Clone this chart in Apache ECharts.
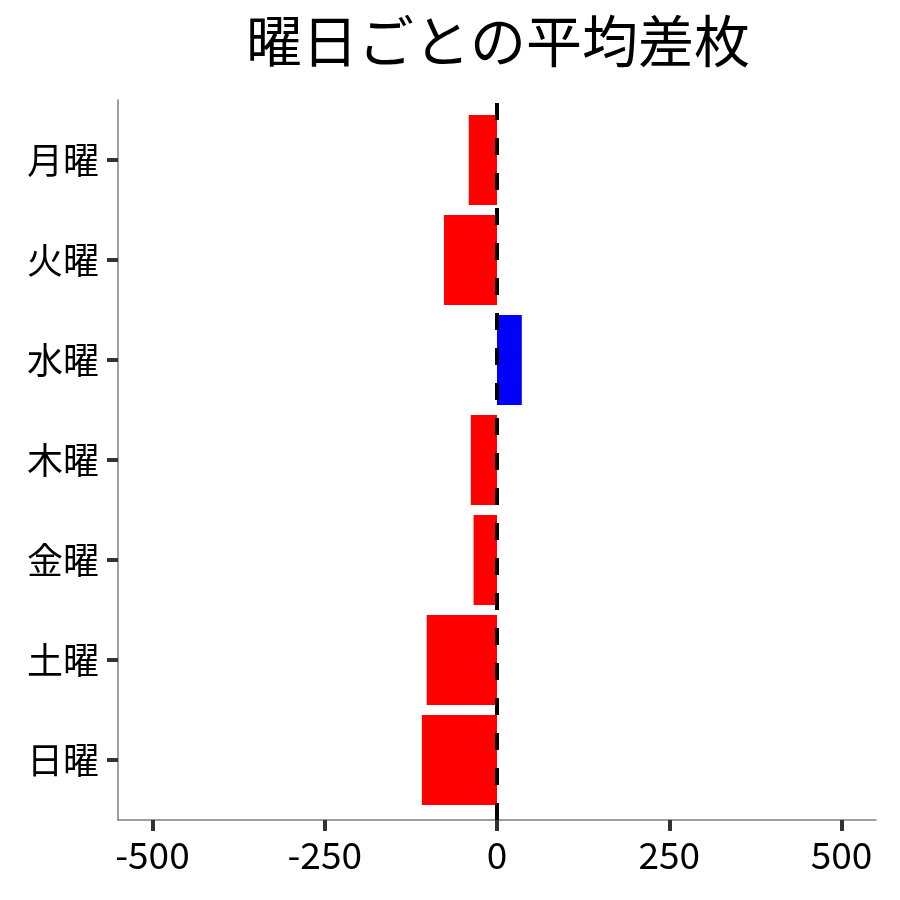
<!DOCTYPE html>
<html>
<head>
<meta charset="utf-8">
<script src="https://cdn.jsdelivr.net/npm/echarts@6/dist/echarts.min.js"></script>
<style>
  html, body { margin: 0; padding: 0; background: #fff; }
  #main { width: 900px; height: 900px; }
</style>
</head>
<body>
<div id="main"></div>
<script>
// 曜日ごとの平均差枚
var days = ['月曜', '火曜', '水曜', '木曜', '金曜', '土曜', '日曜'];
var avgDiff = [-41, -77, 36, -38, -34, -102, -109];
var xTicks = [-500, -250, 0, 250, 500];

var font = '"Noto Sans CJK JP", "Noto Sans", sans-serif';
var myChart = echarts.init(document.getElementById('main'));

var option = {
    backgroundColor: '#fff',
    animation: false,
    title: {
        text: '曜日ごとの平均差枚',
        left: 493,
        top: 8,
        textAlign: 'center',
        textStyle: { fontFamily: font, fontSize: 56, fontWeight: 'normal', color: '#000' }
    },
    // grid 0: 棒グラフ本体, grid 1: 軸線・x軸・0の点線
    grid: [
        { left: 118, right: 24, top: 110, bottom: 90 },
        { left: 118, right: 24, top: 100, bottom: 80 }
    ],
    xAxis: [
        {
            gridIndex: 0, type: 'value', min: -550, max: 550, show: false
        },
        {
            gridIndex: 1, type: 'value', min: -550, max: 550,
            axisLine: { show: true, onZero: false, lineStyle: { color: '#7f7f7f', width: 1.5 } },
            axisTick: { show: true, length: 11, lineStyle: { color: '#333', width: 4 },
                customValues: xTicks },
            axisLabel: { fontFamily: font, fontSize: 37, color: '#000', margin: 16,
                customValues: xTicks },
            splitLine: { show: false }
        }
    ],
    yAxis: [
        {
            gridIndex: 0, type: 'category', data: days, inverse: true,
            axisLine: { show: false, onZero: false },
            axisTick: { show: true, alignWithLabel: true, length: 11,
                lineStyle: { color: '#333', width: 4 } },
            axisLabel: { fontFamily: font, fontSize: 36, color: '#000', margin: 19 }
        },
        {
            gridIndex: 1, type: 'value', min: 0, max: 1,
            axisLine: { show: true, onZero: false, lineStyle: { color: '#7f7f7f', width: 1.5 } },
            axisTick: { show: false },
            axisLabel: { show: false },
            splitLine: { show: false }
        }
    ],
    series: [
        {
            type: 'bar',
            xAxisIndex: 0,
            yAxisIndex: 0,
            data: avgDiff,
            barCategoryGap: '10%',
            itemStyle: {
                color: function (p) { return p.value >= 0 ? '#0000ff' : '#ff0000'; }
            },
            z: 2
        },
        {
            type: 'line',
            xAxisIndex: 1,
            yAxisIndex: 1,
            data: [],
            z: 5,
            markLine: {
                silent: true,
                symbol: 'none',
                label: { show: false },
                lineStyle: { color: '#000', width: 4, type: [17, 18] },
                data: [{ xAxis: 0 }],
                z: 5
            }
        }
    ]
};

myChart.setOption(option);
</script>
</body>
</html>
